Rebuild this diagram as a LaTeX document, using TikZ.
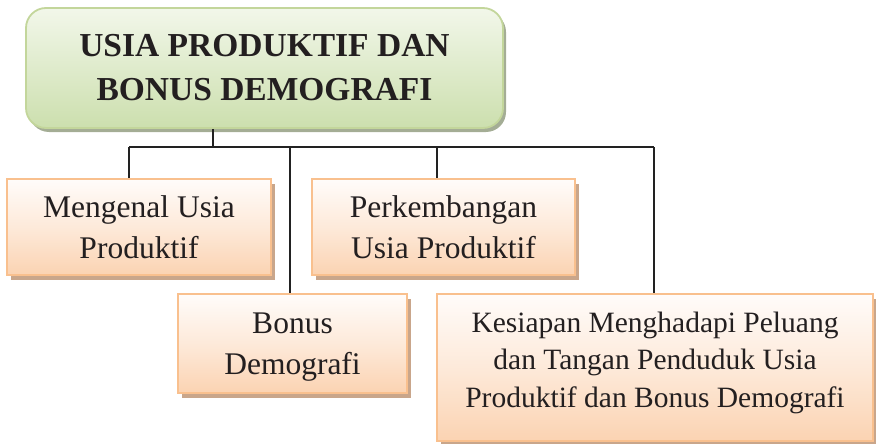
\documentclass[tikz,border=0pt]{standalone}
\usepackage{fontspec}
\setmainfont{Liberation Serif}
\usetikzlibrary{shadows}
\definecolor{txt}{HTML}{231F20}
\definecolor{gTop}{HTML}{F2F7EA}
\definecolor{gBot}{HTML}{CCDFAE}
\definecolor{gLine}{HTML}{C3D69B}
\definecolor{gShad}{HTML}{A4AD95}
\definecolor{oTop}{HTML}{FFFCFA}
\definecolor{oBot}{HTML}{FBD3B2}
\definecolor{oLine}{HTML}{F9C08E}
\definecolor{oShad}{HTML}{C9A68B}
\definecolor{conn}{HTML}{222222}
\tikzset{
  titlebox/.style={draw=gLine, line width=1.8pt, rounded corners=20pt,
    top color=gTop, bottom color=gBot, inner sep=0pt, align=center,
    text=txt, font=\fontsize{33.5}{44}\selectfont\bfseries,
    drop shadow={shadow xshift=3pt, shadow yshift=-4pt, fill=gShad, opacity=1}},
  topicbox/.style={draw=oLine, line width=1.8pt,
    top color=oTop, bottom color=oBot, middle color=oTop!55!oBot, inner sep=0pt, align=center,
    text=txt, font=\fontsize{31.5}{41}\selectfont,
    drop shadow={shadow xshift=4pt, shadow yshift=-5pt, fill=oShad, opacity=1}},
  link/.style={draw=conn, line width=1.3pt}
}
\begin{document}
\begin{tikzpicture}[x=1pt, y=-1pt]
\useasboundingbox (0,0) rectangle (876,444);
\node[titlebox, minimum width=477pt, minimum height=120pt] (top) at (264.5,68)
  {USIA PRODUKTIF DAN\\BONUS DEMOGRAFI};
\node[topicbox, minimum width=264pt, minimum height=96pt] (b1) at (139,227)
  {Mengenal Usia\\Produktif};
\node[topicbox, minimum width=263pt, minimum height=96pt, text depth=-2pt] (b3) at (443.5,227)
  {Perkembangan\\Usia Produktif};
\node[topicbox, minimum width=229pt, minimum height=99pt, text depth=0pt] (b2) at (292.5,343.5)
  {Bonus\\Demografi};
\node[topicbox, minimum width=436pt, minimum height=147pt, text depth=16pt,
  font=\fontsize{29.5}{37.5}\selectfont] (b4) at (655,367.5)
  {Kesiapan Menghadapi Peluang\\dan Tangan Penduduk Usia\\Produktif dan Bonus Demografi};
\coordinate (j) at (213,147);
\coordinate (d1) at (129,147);
\coordinate (d2) at (290,147);
\coordinate (d3) at (437,147);
\coordinate (d4) at (654,147);
\draw[link] (top.south -| j) -- (j);
\draw[link] (d1) -- (d4);
\draw[link] (d1) -- (d1 |- b1.north);
\draw[link] (d2) -- (d2 |- b2.north);
\draw[link] (d3) -- (d3 |- b3.north);
\draw[link] (d4) -- (d4 |- b4.north);
\end{tikzpicture}
\end{document}
